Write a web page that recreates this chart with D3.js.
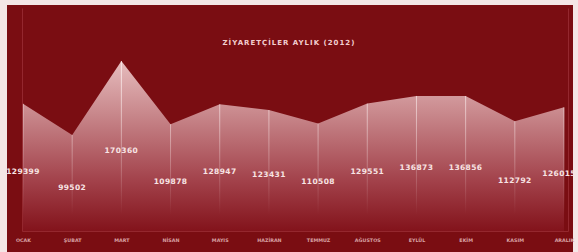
<!DOCTYPE html>
<html>
<head>
<meta charset="utf-8">
<script src="https://cdn.jsdelivr.net/npm/d3@7"></script>
<style>
  body { margin: 0; background: #f4e6e6; }
  svg { display: block; }
</style>
</head>
<body>
<script>
const width = 578
const height = 252

const title = 'ZİYARETÇİLER AYLIK (2012)'
const months = ['OCAK', 'ŞUBAT', 'MART', 'NİSAN', 'MAYIS', 'HAZİRAN', 'TEMMUZ', 'AĞUSTOS', 'EYLÜL', 'EKİM', 'KASIM', 'ARALIK']
const visitors = [129399, 99502, 170360, 109878, 128947, 123431, 110508, 129551, 136873, 136856, 112792, 126015]

const data = months.map((m, i) => ({ month: m, value: visitors[i] }))

let svg = d3.select('body').append('svg')
  .attr('width', width)
  .attr('height', height)

// chart background
svg.append('rect')
  .attr('x', 7).attr('y', 5)
  .attr('width', 566).attr('height', height - 5)
  .attr('fill', '#7a0d12')

const x = d3.scalePoint()
  .domain(months)
  .range([23, 564])

const y = d3.scaleLinear()
  .domain([0, 200000])
  .range([239, 30])

let defs = svg.append('defs')

let grad = defs.append('linearGradient')
  .attr('id', 'areaFill')
  .attr('gradientUnits', 'userSpaceOnUse')
  .attr('x1', 0).attr('y1', y(180000))
  .attr('x2', 0).attr('y2', 232)
grad.append('stop').attr('offset', 0).attr('stop-color', '#ecc6c7')
grad.append('stop').attr('offset', 0.35).attr('stop-color', '#c8878b')
grad.append('stop').attr('offset', 0.72).attr('stop-color', '#a2414a')
grad.append('stop').attr('offset', 1).attr('stop-color', '#82121a')

let lineGrad = defs.append('linearGradient')
  .attr('id', 'dropFade')
  .attr('gradientUnits', 'userSpaceOnUse')
  .attr('x1', 0).attr('y1', 60)
  .attr('x2', 0).attr('y2', 215)
lineGrad.append('stop').attr('offset', 0).attr('stop-color', '#fff4f4').attr('stop-opacity', 0.8)
lineGrad.append('stop').attr('offset', 1).attr('stop-color', '#fff4f4').attr('stop-opacity', 0)

defs.append('clipPath').attr('id', 'plotClip')
  .append('rect')
  .attr('x', 22).attr('y', 8)
  .attr('width', 547).attr('height', 223)

let area = d3.area()
  .x((d) => x(d.month))
  .y0(y(0))
  .y1((d) => y(d.value))

svg.append('path')
  .datum(data)
  .attr('clip-path', 'url(#plotClip)')
  .attr('fill', 'url(#areaFill)')
  .attr('d', area)

// drop lines
svg.append('g')
  .selectAll('line')
  .data(data)
  .enter()
  .append('line')
  .attr('x1', (d) => x(d.month))
  .attr('x2', (d) => x(d.month))
  .attr('y1', (d) => y(d.value))
  .attr('y2', 215)
  .attr('stroke', 'url(#dropFade)')
  .attr('stroke-width', 1)

// plot frame
svg.append('path')
  .attr('d', 'M22.5,8.5V231.5H568.5V8.5')
  .attr('fill', 'none')
  .attr('stroke', '#9a2f36')
  .attr('stroke-width', 0.8)

// value labels, centred inside the area, kept inside the picture
let labels = svg.append('g')
  .selectAll('text')
  .data(data)
  .enter()
  .append('text')
  .attr('y', (d) => (y(d.value) + y(0)) / 2)
  .attr('dy', '0.35em')
  .attr('text-anchor', 'middle')
  .attr('font-family', 'DejaVu Sans, sans-serif')
  .attr('font-weight', 'bold')
  .attr('font-size', 7.5)
  .attr('letter-spacing', 0.4)
  .attr('fill', '#f8e4e4')
  .text((d) => d.value)

labels.attr('x', function (d) {
  const half = this.getComputedTextLength() / 2
  return Math.max(half + 1, Math.min(width - half - 2, x(d.month)))
})

// month axis
let xAxis = svg.append('g')
  .attr('transform', 'translate(0,239)')
  .call(d3.axisBottom(x).tickSize(0).tickPadding(0))
xAxis.select('.domain').remove()
xAxis.selectAll('text')
  .attr('font-family', 'DejaVu Sans, sans-serif')
  .attr('font-weight', 'bold')
  .attr('font-size', 4.8)
  .attr('fill', '#d8a2a5')
  .attr('x', function (d) {
    const half = this.getComputedTextLength() / 2
    return Math.min(width - half - 2 - x(d), 0)
  })

svg.append('text')
  .attr('x', 289)
  .attr('y', 45)
  .attr('text-anchor', 'middle')
  .attr('font-family', 'DejaVu Sans, sans-serif')
  .attr('font-weight', 'bold')
  .attr('font-size', 7)
  .attr('letter-spacing', 1)
  .attr('fill', '#f2cfd0')
  .text(title)
</script>
</body>
</html>
